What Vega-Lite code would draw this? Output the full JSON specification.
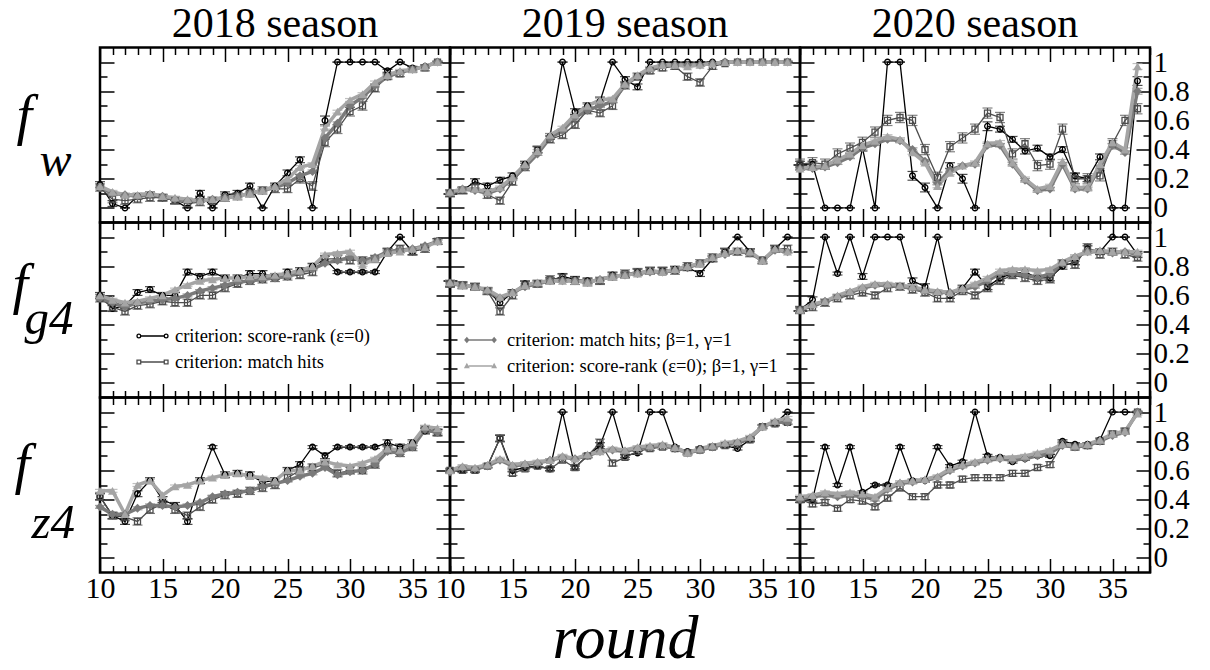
{
"$schema":"https://vega.github.io/schema/vega-lite/v6.json",
"padding":{"left":10,"top":1.5,"right":5,"bottom":0},
"background":"white",
"datasets":{
"w18":[
{"s":"A","r":10,"v":0.16,"e":0.02},{"s":"A","r":11,"v":0.03,"e":0.02},{"s":"A","r":12,"v":0,"e":0},{"s":"A","r":13,"v":0.08,"e":0.02},{"s":"A","r":14,"v":0.09,"e":0.02},{"s":"A","r":15,"v":0.07,"e":0.02},{"s":"A","r":16,"v":0.05,"e":0.02},{"s":"A","r":17,"v":0,"e":0},{"s":"A","r":18,"v":0.1,"e":0.02},{"s":"A","r":19,"v":0,"e":0},{"s":"A","r":20,"v":0.09,"e":0.02},{"s":"A","r":21,"v":0.1,"e":0.02},{"s":"A","r":22,"v":0.15,"e":0.02},{"s":"A","r":23,"v":0,"e":0},{"s":"A","r":24,"v":0.15,"e":0.02},{"s":"A","r":25,"v":0.24,"e":0.02},{"s":"A","r":26,"v":0.33,"e":0.02},{"s":"A","r":27,"v":0,"e":0},{"s":"A","r":28,"v":0.6,"e":0.03},{"s":"A","r":29,"v":1,"e":0},{"s":"A","r":30,"v":1,"e":0},{"s":"A","r":31,"v":1,"e":0},{"s":"A","r":32,"v":1,"e":0},{"s":"A","r":33,"v":0.94,"e":0.01},{"s":"A","r":34,"v":1,"e":0},{"s":"A","r":35,"v":0.96,"e":0.01},{"s":"A","r":36,"v":0.97,"e":0.01},{"s":"A","r":37,"v":1,"e":0},
{"s":"B","r":10,"v":0.14,"e":0.025},{"s":"B","r":11,"v":0.06,"e":0.025},{"s":"B","r":12,"v":0.05,"e":0.025},{"s":"B","r":13,"v":0.06,"e":0.025},{"s":"B","r":14,"v":0.07,"e":0.025},{"s":"B","r":15,"v":0.07,"e":0.025},{"s":"B","r":16,"v":0.05,"e":0.025},{"s":"B","r":17,"v":0.03,"e":0.025},{"s":"B","r":18,"v":0.04,"e":0.025},{"s":"B","r":19,"v":0.05,"e":0.025},{"s":"B","r":20,"v":0.07,"e":0.025},{"s":"B","r":21,"v":0.08,"e":0.025},{"s":"B","r":22,"v":0.1,"e":0.025},{"s":"B","r":23,"v":0.12,"e":0.025},{"s":"B","r":24,"v":0.13,"e":0.025},{"s":"B","r":25,"v":0.13,"e":0.025},{"s":"B","r":26,"v":0.2,"e":0.03},{"s":"B","r":27,"v":0.15,"e":0.03},{"s":"B","r":28,"v":0.45,"e":0.03},{"s":"B","r":29,"v":0.54,"e":0.03},{"s":"B","r":30,"v":0.66,"e":0.03},{"s":"B","r":31,"v":0.7,"e":0.03},{"s":"B","r":32,"v":0.82,"e":0.025},{"s":"B","r":33,"v":0.9,"e":0.02},{"s":"B","r":34,"v":0.92,"e":0.02},{"s":"B","r":35,"v":0.95,"e":0.02},{"s":"B","r":36,"v":0.96,"e":0.02},{"s":"B","r":37,"v":1,"e":0},
{"s":"C","r":10,"v":0.14,"e":0.01},{"s":"C","r":11,"v":0.1,"e":0.01},{"s":"C","r":12,"v":0.09,"e":0.01},{"s":"C","r":13,"v":0.08,"e":0.01},{"s":"C","r":14,"v":0.09,"e":0.01},{"s":"C","r":15,"v":0.08,"e":0.01},{"s":"C","r":16,"v":0.06,"e":0.01},{"s":"C","r":17,"v":0.05,"e":0.01},{"s":"C","r":18,"v":0.05,"e":0.01},{"s":"C","r":19,"v":0.06,"e":0.01},{"s":"C","r":20,"v":0.07,"e":0.01},{"s":"C","r":21,"v":0.08,"e":0.01},{"s":"C","r":22,"v":0.1,"e":0.01},{"s":"C","r":23,"v":0.12,"e":0.01},{"s":"C","r":24,"v":0.14,"e":0.01},{"s":"C","r":25,"v":0.17,"e":0.01},{"s":"C","r":26,"v":0.22,"e":0.01},{"s":"C","r":27,"v":0.25,"e":0.01},{"s":"C","r":28,"v":0.48,"e":0.01},{"s":"C","r":29,"v":0.58,"e":0.01},{"s":"C","r":30,"v":0.7,"e":0.01},{"s":"C","r":31,"v":0.76,"e":0.01},{"s":"C","r":32,"v":0.84,"e":0.01},{"s":"C","r":33,"v":0.9,"e":0.01},{"s":"C","r":34,"v":0.93,"e":0.01},{"s":"C","r":35,"v":0.95,"e":0.01},{"s":"C","r":36,"v":0.97,"e":0.01},{"s":"C","r":37,"v":1,"e":0.01},
{"s":"D","r":10,"v":0.15,"e":0.01},{"s":"D","r":11,"v":0.11,"e":0.01},{"s":"D","r":12,"v":0.09,"e":0.01},{"s":"D","r":13,"v":0.09,"e":0.01},{"s":"D","r":14,"v":0.1,"e":0.01},{"s":"D","r":15,"v":0.08,"e":0.01},{"s":"D","r":16,"v":0.07,"e":0.01},{"s":"D","r":17,"v":0.06,"e":0.01},{"s":"D","r":18,"v":0.05,"e":0.01},{"s":"D","r":19,"v":0.06,"e":0.01},{"s":"D","r":20,"v":0.07,"e":0.01},{"s":"D","r":21,"v":0.08,"e":0.01},{"s":"D","r":22,"v":0.1,"e":0.01},{"s":"D","r":23,"v":0.12,"e":0.01},{"s":"D","r":24,"v":0.15,"e":0.01},{"s":"D","r":25,"v":0.2,"e":0.01},{"s":"D","r":26,"v":0.28,"e":0.01},{"s":"D","r":27,"v":0.3,"e":0.01},{"s":"D","r":28,"v":0.55,"e":0.01},{"s":"D","r":29,"v":0.66,"e":0.01},{"s":"D","r":30,"v":0.74,"e":0.01},{"s":"D","r":31,"v":0.78,"e":0.01},{"s":"D","r":32,"v":0.86,"e":0.01},{"s":"D","r":33,"v":0.91,"e":0.01},{"s":"D","r":34,"v":0.94,"e":0.01},{"s":"D","r":35,"v":0.95,"e":0.01},{"s":"D","r":36,"v":0.97,"e":0.01},{"s":"D","r":37,"v":1,"e":0.01}
],
"w19":[
{"s":"A","r":10,"v":0.1,"e":0.02},{"s":"A","r":11,"v":0.12,"e":0.02},{"s":"A","r":12,"v":0.18,"e":0.02},{"s":"A","r":13,"v":0.15,"e":0.02},{"s":"A","r":14,"v":0.19,"e":0.02},{"s":"A","r":15,"v":0.22,"e":0.02},{"s":"A","r":16,"v":0.3,"e":0.02},{"s":"A","r":17,"v":0.4,"e":0.02},{"s":"A","r":18,"v":0.49,"e":0.02},{"s":"A","r":19,"v":1,"e":0},{"s":"A","r":20,"v":0.66,"e":0.02},{"s":"A","r":21,"v":0.7,"e":0.02},{"s":"A","r":22,"v":0.73,"e":0.03},{"s":"A","r":23,"v":1,"e":0},{"s":"A","r":24,"v":0.88,"e":0.02},{"s":"A","r":25,"v":0.83,"e":0.02},{"s":"A","r":26,"v":1,"e":0},{"s":"A","r":27,"v":1,"e":0},{"s":"A","r":28,"v":1,"e":0},{"s":"A","r":29,"v":1,"e":0},{"s":"A","r":30,"v":1,"e":0},{"s":"A","r":31,"v":1,"e":0},{"s":"A","r":32,"v":1,"e":0},{"s":"A","r":33,"v":1,"e":0},{"s":"A","r":34,"v":1,"e":0},{"s":"A","r":35,"v":1,"e":0},{"s":"A","r":36,"v":1,"e":0},{"s":"A","r":37,"v":1,"e":0},
{"s":"B","r":10,"v":0.1,"e":0.025},{"s":"B","r":11,"v":0.12,"e":0.025},{"s":"B","r":12,"v":0.14,"e":0.025},{"s":"B","r":13,"v":0.09,"e":0.025},{"s":"B","r":14,"v":0.05,"e":0.025},{"s":"B","r":15,"v":0.18,"e":0.025},{"s":"B","r":16,"v":0.28,"e":0.025},{"s":"B","r":17,"v":0.4,"e":0.025},{"s":"B","r":18,"v":0.47,"e":0.025},{"s":"B","r":19,"v":0.5,"e":0.025},{"s":"B","r":20,"v":0.57,"e":0.025},{"s":"B","r":21,"v":0.67,"e":0.025},{"s":"B","r":22,"v":0.65,"e":0.025},{"s":"B","r":23,"v":0.7,"e":0.025},{"s":"B","r":24,"v":0.84,"e":0.025},{"s":"B","r":25,"v":0.9,"e":0.025},{"s":"B","r":26,"v":0.94,"e":0.02},{"s":"B","r":27,"v":0.96,"e":0.02},{"s":"B","r":28,"v":0.97,"e":0.02},{"s":"B","r":29,"v":0.9,"e":0.025},{"s":"B","r":30,"v":0.86,"e":0.025},{"s":"B","r":31,"v":0.97,"e":0.02},{"s":"B","r":32,"v":0.99,"e":0.01},{"s":"B","r":33,"v":1,"e":0},{"s":"B","r":34,"v":1,"e":0},{"s":"B","r":35,"v":1,"e":0},{"s":"B","r":36,"v":1,"e":0},{"s":"B","r":37,"v":1,"e":0},
{"s":"C","r":10,"v":0.1,"e":0.01},{"s":"C","r":11,"v":0.13,"e":0.01},{"s":"C","r":12,"v":0.12,"e":0.01},{"s":"C","r":13,"v":0.1,"e":0.01},{"s":"C","r":14,"v":0.13,"e":0.01},{"s":"C","r":15,"v":0.2,"e":0.01},{"s":"C","r":16,"v":0.28,"e":0.01},{"s":"C","r":17,"v":0.37,"e":0.01},{"s":"C","r":18,"v":0.48,"e":0.01},{"s":"C","r":19,"v":0.53,"e":0.01},{"s":"C","r":20,"v":0.62,"e":0.01},{"s":"C","r":21,"v":0.67,"e":0.01},{"s":"C","r":22,"v":0.7,"e":0.01},{"s":"C","r":23,"v":0.73,"e":0.01},{"s":"C","r":24,"v":0.84,"e":0.01},{"s":"C","r":25,"v":0.9,"e":0.01},{"s":"C","r":26,"v":0.95,"e":0.01},{"s":"C","r":27,"v":0.98,"e":0.01},{"s":"C","r":28,"v":0.98,"e":0.01},{"s":"C","r":29,"v":0.98,"e":0.01},{"s":"C","r":30,"v":0.98,"e":0.01},{"s":"C","r":31,"v":0.99,"e":0.01},{"s":"C","r":32,"v":1,"e":0.01},{"s":"C","r":33,"v":1,"e":0.01},{"s":"C","r":34,"v":1,"e":0.01},{"s":"C","r":35,"v":1,"e":0.01},{"s":"C","r":36,"v":1,"e":0.01},{"s":"C","r":37,"v":1,"e":0.01},
{"s":"D","r":10,"v":0.11,"e":0.01},{"s":"D","r":11,"v":0.13,"e":0.01},{"s":"D","r":12,"v":0.13,"e":0.01},{"s":"D","r":13,"v":0.11,"e":0.01},{"s":"D","r":14,"v":0.14,"e":0.01},{"s":"D","r":15,"v":0.21,"e":0.01},{"s":"D","r":16,"v":0.3,"e":0.01},{"s":"D","r":17,"v":0.39,"e":0.01},{"s":"D","r":18,"v":0.5,"e":0.01},{"s":"D","r":19,"v":0.55,"e":0.01},{"s":"D","r":20,"v":0.64,"e":0.01},{"s":"D","r":21,"v":0.7,"e":0.01},{"s":"D","r":22,"v":0.74,"e":0.01},{"s":"D","r":23,"v":0.75,"e":0.01},{"s":"D","r":24,"v":0.85,"e":0.01},{"s":"D","r":25,"v":0.91,"e":0.01},{"s":"D","r":26,"v":0.96,"e":0.01},{"s":"D","r":27,"v":0.98,"e":0.01},{"s":"D","r":28,"v":0.98,"e":0.01},{"s":"D","r":29,"v":0.97,"e":0.01},{"s":"D","r":30,"v":0.98,"e":0.01},{"s":"D","r":31,"v":0.99,"e":0.01},{"s":"D","r":32,"v":1,"e":0.01},{"s":"D","r":33,"v":1,"e":0.01},{"s":"D","r":34,"v":1,"e":0.01},{"s":"D","r":35,"v":1,"e":0.01},{"s":"D","r":36,"v":1,"e":0.01},{"s":"D","r":37,"v":1,"e":0.01}
],
"w20":[
{"s":"A","r":10,"v":0.3,"e":0.02},{"s":"A","r":11,"v":0.3,"e":0.02},{"s":"A","r":12,"v":0,"e":0},{"s":"A","r":13,"v":0,"e":0},{"s":"A","r":14,"v":0,"e":0},{"s":"A","r":15,"v":0.41,"e":0.02},{"s":"A","r":16,"v":0,"e":0},{"s":"A","r":17,"v":1,"e":0},{"s":"A","r":18,"v":1,"e":0},{"s":"A","r":19,"v":0.22,"e":0.03},{"s":"A","r":20,"v":0.14,"e":0.03},{"s":"A","r":21,"v":0,"e":0},{"s":"A","r":22,"v":0.29,"e":0.02},{"s":"A","r":23,"v":0.2,"e":0.03},{"s":"A","r":24,"v":0,"e":0},{"s":"A","r":25,"v":0.56,"e":0.03},{"s":"A","r":26,"v":0.54,"e":0.02},{"s":"A","r":27,"v":0.47,"e":0.02},{"s":"A","r":28,"v":0.39,"e":0.02},{"s":"A","r":29,"v":0.41,"e":0.02},{"s":"A","r":30,"v":0.35,"e":0.02},{"s":"A","r":31,"v":0.4,"e":0.02},{"s":"A","r":32,"v":0.22,"e":0.02},{"s":"A","r":33,"v":0.2,"e":0.02},{"s":"A","r":34,"v":0.35,"e":0.02},{"s":"A","r":35,"v":0,"e":0},{"s":"A","r":36,"v":0,"e":0},{"s":"A","r":37,"v":0.87,"e":0.03},
{"s":"B","r":10,"v":0.3,"e":0.035},{"s":"B","r":11,"v":0.31,"e":0.035},{"s":"B","r":12,"v":0.3,"e":0.035},{"s":"B","r":13,"v":0.37,"e":0.035},{"s":"B","r":14,"v":0.41,"e":0.035},{"s":"B","r":15,"v":0.45,"e":0.035},{"s":"B","r":16,"v":0.52,"e":0.035},{"s":"B","r":17,"v":0.6,"e":0.035},{"s":"B","r":18,"v":0.62,"e":0.035},{"s":"B","r":19,"v":0.6,"e":0.035},{"s":"B","r":20,"v":0.4,"e":0.035},{"s":"B","r":21,"v":0.21,"e":0.035},{"s":"B","r":22,"v":0.42,"e":0.035},{"s":"B","r":23,"v":0.48,"e":0.035},{"s":"B","r":24,"v":0.54,"e":0.035},{"s":"B","r":25,"v":0.65,"e":0.035},{"s":"B","r":26,"v":0.62,"e":0.035},{"s":"B","r":27,"v":0.37,"e":0.035},{"s":"B","r":28,"v":0.44,"e":0.035},{"s":"B","r":29,"v":0.29,"e":0.035},{"s":"B","r":30,"v":0.3,"e":0.035},{"s":"B","r":31,"v":0.54,"e":0.035},{"s":"B","r":32,"v":0.2,"e":0.035},{"s":"B","r":33,"v":0.2,"e":0.035},{"s":"B","r":34,"v":0.22,"e":0.035},{"s":"B","r":35,"v":0.44,"e":0.035},{"s":"B","r":36,"v":0.6,"e":0.035},{"s":"B","r":37,"v":0.68,"e":0.035},
{"s":"C","r":10,"v":0.27,"e":0.012},{"s":"C","r":11,"v":0.27,"e":0.012},{"s":"C","r":12,"v":0.28,"e":0.012},{"s":"C","r":13,"v":0.31,"e":0.012},{"s":"C","r":14,"v":0.35,"e":0.012},{"s":"C","r":15,"v":0.41,"e":0.012},{"s":"C","r":16,"v":0.44,"e":0.012},{"s":"C","r":17,"v":0.47,"e":0.012},{"s":"C","r":18,"v":0.46,"e":0.012},{"s":"C","r":19,"v":0.4,"e":0.012},{"s":"C","r":20,"v":0.32,"e":0.012},{"s":"C","r":21,"v":0.17,"e":0.012},{"s":"C","r":22,"v":0.26,"e":0.012},{"s":"C","r":23,"v":0.29,"e":0.012},{"s":"C","r":24,"v":0.3,"e":0.012},{"s":"C","r":25,"v":0.43,"e":0.012},{"s":"C","r":26,"v":0.43,"e":0.012},{"s":"C","r":27,"v":0.3,"e":0.012},{"s":"C","r":28,"v":0.19,"e":0.012},{"s":"C","r":29,"v":0.12,"e":0.012},{"s":"C","r":30,"v":0.13,"e":0.012},{"s":"C","r":31,"v":0.3,"e":0.012},{"s":"C","r":32,"v":0.13,"e":0.012},{"s":"C","r":33,"v":0.13,"e":0.012},{"s":"C","r":34,"v":0.28,"e":0.012},{"s":"C","r":35,"v":0.43,"e":0.012},{"s":"C","r":36,"v":0.38,"e":0.012},{"s":"C","r":37,"v":0.8,"e":0.02},
{"s":"D","r":10,"v":0.27,"e":0.012},{"s":"D","r":11,"v":0.28,"e":0.012},{"s":"D","r":12,"v":0.29,"e":0.012},{"s":"D","r":13,"v":0.33,"e":0.012},{"s":"D","r":14,"v":0.37,"e":0.012},{"s":"D","r":15,"v":0.43,"e":0.012},{"s":"D","r":16,"v":0.46,"e":0.012},{"s":"D","r":17,"v":0.49,"e":0.012},{"s":"D","r":18,"v":0.47,"e":0.012},{"s":"D","r":19,"v":0.38,"e":0.012},{"s":"D","r":20,"v":0.31,"e":0.012},{"s":"D","r":21,"v":0.15,"e":0.012},{"s":"D","r":22,"v":0.24,"e":0.012},{"s":"D","r":23,"v":0.29,"e":0.012},{"s":"D","r":24,"v":0.31,"e":0.012},{"s":"D","r":25,"v":0.44,"e":0.012},{"s":"D","r":26,"v":0.45,"e":0.012},{"s":"D","r":27,"v":0.31,"e":0.012},{"s":"D","r":28,"v":0.2,"e":0.012},{"s":"D","r":29,"v":0.13,"e":0.012},{"s":"D","r":30,"v":0.15,"e":0.012},{"s":"D","r":31,"v":0.32,"e":0.012},{"s":"D","r":32,"v":0.14,"e":0.012},{"s":"D","r":33,"v":0.14,"e":0.012},{"s":"D","r":34,"v":0.3,"e":0.012},{"s":"D","r":35,"v":0.45,"e":0.012},{"s":"D","r":36,"v":0.4,"e":0.012},{"s":"D","r":37,"v":0.97,"e":0.02}
],
"g18":[
{"s":"A","r":10,"v":0.6,"e":0.02},{"s":"A","r":11,"v":0.51,"e":0.02},{"s":"A","r":12,"v":0.53,"e":0.02},{"s":"A","r":13,"v":0.62,"e":0.02},{"s":"A","r":14,"v":0.64,"e":0.02},{"s":"A","r":15,"v":0.6,"e":0.02},{"s":"A","r":16,"v":0.6,"e":0.02},{"s":"A","r":17,"v":0.76,"e":0.02},{"s":"A","r":18,"v":0.73,"e":0.02},{"s":"A","r":19,"v":0.76,"e":0.02},{"s":"A","r":20,"v":0.72,"e":0.02},{"s":"A","r":21,"v":0.72,"e":0.02},{"s":"A","r":22,"v":0.75,"e":0.02},{"s":"A","r":23,"v":0.75,"e":0.02},{"s":"A","r":24,"v":0.73,"e":0.02},{"s":"A","r":25,"v":0.76,"e":0.02},{"s":"A","r":26,"v":0.77,"e":0.02},{"s":"A","r":27,"v":0.8,"e":0.02},{"s":"A","r":28,"v":0.85,"e":0.02},{"s":"A","r":29,"v":0.76,"e":0.01},{"s":"A","r":30,"v":0.76,"e":0.01},{"s":"A","r":31,"v":0.76,"e":0.01},{"s":"A","r":32,"v":0.76,"e":0.01},{"s":"A","r":33,"v":0.9,"e":0.02},{"s":"A","r":34,"v":1,"e":0},{"s":"A","r":35,"v":0.9,"e":0.02},{"s":"A","r":36,"v":0.93,"e":0.02},{"s":"A","r":37,"v":0.97,"e":0.02},
{"s":"B","r":10,"v":0.58,"e":0.025},{"s":"B","r":11,"v":0.52,"e":0.025},{"s":"B","r":12,"v":0.49,"e":0.025},{"s":"B","r":13,"v":0.53,"e":0.025},{"s":"B","r":14,"v":0.54,"e":0.025},{"s":"B","r":15,"v":0.56,"e":0.025},{"s":"B","r":16,"v":0.55,"e":0.025},{"s":"B","r":17,"v":0.55,"e":0.025},{"s":"B","r":18,"v":0.6,"e":0.025},{"s":"B","r":19,"v":0.6,"e":0.025},{"s":"B","r":20,"v":0.65,"e":0.025},{"s":"B","r":21,"v":0.68,"e":0.025},{"s":"B","r":22,"v":0.7,"e":0.025},{"s":"B","r":23,"v":0.71,"e":0.025},{"s":"B","r":24,"v":0.72,"e":0.025},{"s":"B","r":25,"v":0.73,"e":0.025},{"s":"B","r":26,"v":0.74,"e":0.025},{"s":"B","r":27,"v":0.76,"e":0.025},{"s":"B","r":28,"v":0.85,"e":0.025},{"s":"B","r":29,"v":0.85,"e":0.025},{"s":"B","r":30,"v":0.84,"e":0.025},{"s":"B","r":31,"v":0.84,"e":0.025},{"s":"B","r":32,"v":0.85,"e":0.025},{"s":"B","r":33,"v":0.9,"e":0.025},{"s":"B","r":34,"v":0.92,"e":0.025},{"s":"B","r":35,"v":0.9,"e":0.025},{"s":"B","r":36,"v":0.92,"e":0.025},{"s":"B","r":37,"v":0.97,"e":0.02},
{"s":"C","r":10,"v":0.58,"e":0.01},{"s":"C","r":11,"v":0.55,"e":0.01},{"s":"C","r":12,"v":0.52,"e":0.01},{"s":"C","r":13,"v":0.55,"e":0.01},{"s":"C","r":14,"v":0.56,"e":0.01},{"s":"C","r":15,"v":0.57,"e":0.01},{"s":"C","r":16,"v":0.58,"e":0.01},{"s":"C","r":17,"v":0.6,"e":0.01},{"s":"C","r":18,"v":0.63,"e":0.01},{"s":"C","r":19,"v":0.65,"e":0.01},{"s":"C","r":20,"v":0.67,"e":0.01},{"s":"C","r":21,"v":0.69,"e":0.01},{"s":"C","r":22,"v":0.7,"e":0.01},{"s":"C","r":23,"v":0.71,"e":0.01},{"s":"C","r":24,"v":0.72,"e":0.01},{"s":"C","r":25,"v":0.73,"e":0.01},{"s":"C","r":26,"v":0.76,"e":0.01},{"s":"C","r":27,"v":0.78,"e":0.01},{"s":"C","r":28,"v":0.82,"e":0.01},{"s":"C","r":29,"v":0.84,"e":0.01},{"s":"C","r":30,"v":0.86,"e":0.01},{"s":"C","r":31,"v":0.84,"e":0.01},{"s":"C","r":32,"v":0.86,"e":0.01},{"s":"C","r":33,"v":0.9,"e":0.01},{"s":"C","r":34,"v":0.91,"e":0.01},{"s":"C","r":35,"v":0.92,"e":0.01},{"s":"C","r":36,"v":0.94,"e":0.01},{"s":"C","r":37,"v":0.97,"e":0.01},
{"s":"D","r":10,"v":0.6,"e":0.01},{"s":"D","r":11,"v":0.57,"e":0.01},{"s":"D","r":12,"v":0.55,"e":0.01},{"s":"D","r":13,"v":0.56,"e":0.01},{"s":"D","r":14,"v":0.58,"e":0.01},{"s":"D","r":15,"v":0.6,"e":0.01},{"s":"D","r":16,"v":0.64,"e":0.01},{"s":"D","r":17,"v":0.67,"e":0.01},{"s":"D","r":18,"v":0.7,"e":0.01},{"s":"D","r":19,"v":0.71,"e":0.01},{"s":"D","r":20,"v":0.72,"e":0.01},{"s":"D","r":21,"v":0.72,"e":0.01},{"s":"D","r":22,"v":0.73,"e":0.01},{"s":"D","r":23,"v":0.73,"e":0.01},{"s":"D","r":24,"v":0.74,"e":0.01},{"s":"D","r":25,"v":0.75,"e":0.01},{"s":"D","r":26,"v":0.77,"e":0.01},{"s":"D","r":27,"v":0.8,"e":0.01},{"s":"D","r":28,"v":0.88,"e":0.01},{"s":"D","r":29,"v":0.89,"e":0.01},{"s":"D","r":30,"v":0.9,"e":0.01},{"s":"D","r":31,"v":0.81,"e":0.01},{"s":"D","r":32,"v":0.85,"e":0.01},{"s":"D","r":33,"v":0.89,"e":0.01},{"s":"D","r":34,"v":0.9,"e":0.01},{"s":"D","r":35,"v":0.92,"e":0.01},{"s":"D","r":36,"v":0.93,"e":0.01},{"s":"D","r":37,"v":0.97,"e":0.01}
],
"g19":[
{"s":"A","r":10,"v":0.68,"e":0.02},{"s":"A","r":11,"v":0.67,"e":0.02},{"s":"A","r":12,"v":0.66,"e":0.02},{"s":"A","r":13,"v":0.63,"e":0.02},{"s":"A","r":14,"v":0.55,"e":0.02},{"s":"A","r":15,"v":0.62,"e":0.02},{"s":"A","r":16,"v":0.68,"e":0.02},{"s":"A","r":17,"v":0.68,"e":0.02},{"s":"A","r":18,"v":0.7,"e":0.02},{"s":"A","r":19,"v":0.73,"e":0.02},{"s":"A","r":20,"v":0.71,"e":0.02},{"s":"A","r":21,"v":0.7,"e":0.02},{"s":"A","r":22,"v":0.7,"e":0.02},{"s":"A","r":23,"v":0.74,"e":0.02},{"s":"A","r":24,"v":0.74,"e":0.02},{"s":"A","r":25,"v":0.76,"e":0.02},{"s":"A","r":26,"v":0.77,"e":0.02},{"s":"A","r":27,"v":0.77,"e":0.02},{"s":"A","r":28,"v":0.78,"e":0.02},{"s":"A","r":29,"v":0.79,"e":0.02},{"s":"A","r":30,"v":0.75,"e":0.02},{"s":"A","r":31,"v":0.85,"e":0.02},{"s":"A","r":32,"v":0.9,"e":0.02},{"s":"A","r":33,"v":1,"e":0},{"s":"A","r":34,"v":0.9,"e":0.02},{"s":"A","r":35,"v":0.84,"e":0.02},{"s":"A","r":36,"v":0.92,"e":0.02},{"s":"A","r":37,"v":1,"e":0},
{"s":"B","r":10,"v":0.68,"e":0.025},{"s":"B","r":11,"v":0.67,"e":0.025},{"s":"B","r":12,"v":0.66,"e":0.025},{"s":"B","r":13,"v":0.63,"e":0.025},{"s":"B","r":14,"v":0.49,"e":0.025},{"s":"B","r":15,"v":0.6,"e":0.025},{"s":"B","r":16,"v":0.67,"e":0.025},{"s":"B","r":17,"v":0.68,"e":0.025},{"s":"B","r":18,"v":0.71,"e":0.025},{"s":"B","r":19,"v":0.72,"e":0.025},{"s":"B","r":20,"v":0.7,"e":0.025},{"s":"B","r":21,"v":0.69,"e":0.025},{"s":"B","r":22,"v":0.7,"e":0.025},{"s":"B","r":23,"v":0.73,"e":0.025},{"s":"B","r":24,"v":0.75,"e":0.025},{"s":"B","r":25,"v":0.76,"e":0.025},{"s":"B","r":26,"v":0.77,"e":0.025},{"s":"B","r":27,"v":0.77,"e":0.025},{"s":"B","r":28,"v":0.77,"e":0.025},{"s":"B","r":29,"v":0.8,"e":0.025},{"s":"B","r":30,"v":0.82,"e":0.025},{"s":"B","r":31,"v":0.86,"e":0.025},{"s":"B","r":32,"v":0.9,"e":0.025},{"s":"B","r":33,"v":0.9,"e":0.025},{"s":"B","r":34,"v":0.89,"e":0.025},{"s":"B","r":35,"v":0.84,"e":0.025},{"s":"B","r":36,"v":0.92,"e":0.025},{"s":"B","r":37,"v":0.92,"e":0.025},
{"s":"C","r":10,"v":0.68,"e":0.01},{"s":"C","r":11,"v":0.67,"e":0.01},{"s":"C","r":12,"v":0.66,"e":0.01},{"s":"C","r":13,"v":0.63,"e":0.01},{"s":"C","r":14,"v":0.58,"e":0.01},{"s":"C","r":15,"v":0.62,"e":0.01},{"s":"C","r":16,"v":0.66,"e":0.01},{"s":"C","r":17,"v":0.68,"e":0.01},{"s":"C","r":18,"v":0.7,"e":0.01},{"s":"C","r":19,"v":0.7,"e":0.01},{"s":"C","r":20,"v":0.7,"e":0.01},{"s":"C","r":21,"v":0.69,"e":0.01},{"s":"C","r":22,"v":0.71,"e":0.01},{"s":"C","r":23,"v":0.73,"e":0.01},{"s":"C","r":24,"v":0.74,"e":0.01},{"s":"C","r":25,"v":0.75,"e":0.01},{"s":"C","r":26,"v":0.76,"e":0.01},{"s":"C","r":27,"v":0.76,"e":0.01},{"s":"C","r":28,"v":0.77,"e":0.01},{"s":"C","r":29,"v":0.79,"e":0.01},{"s":"C","r":30,"v":0.82,"e":0.01},{"s":"C","r":31,"v":0.86,"e":0.01},{"s":"C","r":32,"v":0.88,"e":0.01},{"s":"C","r":33,"v":0.9,"e":0.01},{"s":"C","r":34,"v":0.89,"e":0.01},{"s":"C","r":35,"v":0.84,"e":0.01},{"s":"C","r":36,"v":0.91,"e":0.01},{"s":"C","r":37,"v":0.9,"e":0.01},
{"s":"D","r":10,"v":0.69,"e":0.01},{"s":"D","r":11,"v":0.67,"e":0.01},{"s":"D","r":12,"v":0.66,"e":0.01},{"s":"D","r":13,"v":0.64,"e":0.01},{"s":"D","r":14,"v":0.59,"e":0.01},{"s":"D","r":15,"v":0.62,"e":0.01},{"s":"D","r":16,"v":0.67,"e":0.01},{"s":"D","r":17,"v":0.69,"e":0.01},{"s":"D","r":18,"v":0.7,"e":0.01},{"s":"D","r":19,"v":0.7,"e":0.01},{"s":"D","r":20,"v":0.7,"e":0.01},{"s":"D","r":21,"v":0.69,"e":0.01},{"s":"D","r":22,"v":0.71,"e":0.01},{"s":"D","r":23,"v":0.73,"e":0.01},{"s":"D","r":24,"v":0.74,"e":0.01},{"s":"D","r":25,"v":0.75,"e":0.01},{"s":"D","r":26,"v":0.77,"e":0.01},{"s":"D","r":27,"v":0.76,"e":0.01},{"s":"D","r":28,"v":0.78,"e":0.01},{"s":"D","r":29,"v":0.8,"e":0.01},{"s":"D","r":30,"v":0.82,"e":0.01},{"s":"D","r":31,"v":0.86,"e":0.01},{"s":"D","r":32,"v":0.89,"e":0.01},{"s":"D","r":33,"v":0.91,"e":0.01},{"s":"D","r":34,"v":0.9,"e":0.01},{"s":"D","r":35,"v":0.84,"e":0.01},{"s":"D","r":36,"v":0.92,"e":0.01},{"s":"D","r":37,"v":0.9,"e":0.01}
],
"g20":[
{"s":"A","r":10,"v":0.5,"e":0.02},{"s":"A","r":11,"v":0.57,"e":0.02},{"s":"A","r":12,"v":1,"e":0},{"s":"A","r":13,"v":0.75,"e":0.01},{"s":"A","r":14,"v":1,"e":0},{"s":"A","r":15,"v":0.73,"e":0.02},{"s":"A","r":16,"v":1,"e":0},{"s":"A","r":17,"v":1,"e":0},{"s":"A","r":18,"v":1,"e":0},{"s":"A","r":19,"v":0.7,"e":0.02},{"s":"A","r":20,"v":0.66,"e":0.02},{"s":"A","r":21,"v":1,"e":0},{"s":"A","r":22,"v":0.6,"e":0.02},{"s":"A","r":23,"v":0.65,"e":0.02},{"s":"A","r":24,"v":0.76,"e":0.02},{"s":"A","r":25,"v":0.66,"e":0.02},{"s":"A","r":26,"v":0.72,"e":0.02},{"s":"A","r":27,"v":0.75,"e":0.02},{"s":"A","r":28,"v":0.76,"e":0.02},{"s":"A","r":29,"v":0.72,"e":0.02},{"s":"A","r":30,"v":0.72,"e":0.02},{"s":"A","r":31,"v":0.8,"e":0.02},{"s":"A","r":32,"v":0.83,"e":0.02},{"s":"A","r":33,"v":0.92,"e":0.02},{"s":"A","r":34,"v":0.9,"e":0.02},{"s":"A","r":35,"v":1,"e":0},{"s":"A","r":36,"v":1,"e":0},{"s":"A","r":37,"v":0.88,"e":0.02},
{"s":"B","r":10,"v":0.5,"e":0.025},{"s":"B","r":11,"v":0.52,"e":0.025},{"s":"B","r":12,"v":0.55,"e":0.025},{"s":"B","r":13,"v":0.58,"e":0.025},{"s":"B","r":14,"v":0.6,"e":0.025},{"s":"B","r":15,"v":0.62,"e":0.025},{"s":"B","r":16,"v":0.6,"e":0.025},{"s":"B","r":17,"v":0.65,"e":0.025},{"s":"B","r":18,"v":0.66,"e":0.025},{"s":"B","r":19,"v":0.64,"e":0.025},{"s":"B","r":20,"v":0.62,"e":0.025},{"s":"B","r":21,"v":0.58,"e":0.025},{"s":"B","r":22,"v":0.58,"e":0.025},{"s":"B","r":23,"v":0.63,"e":0.025},{"s":"B","r":24,"v":0.6,"e":0.025},{"s":"B","r":25,"v":0.65,"e":0.025},{"s":"B","r":26,"v":0.7,"e":0.025},{"s":"B","r":27,"v":0.74,"e":0.025},{"s":"B","r":28,"v":0.72,"e":0.025},{"s":"B","r":29,"v":0.7,"e":0.025},{"s":"B","r":30,"v":0.71,"e":0.025},{"s":"B","r":31,"v":0.82,"e":0.025},{"s":"B","r":32,"v":0.81,"e":0.025},{"s":"B","r":33,"v":0.93,"e":0.025},{"s":"B","r":34,"v":0.88,"e":0.025},{"s":"B","r":35,"v":0.9,"e":0.025},{"s":"B","r":36,"v":0.88,"e":0.025},{"s":"B","r":37,"v":0.86,"e":0.025},
{"s":"C","r":10,"v":0.5,"e":0.01},{"s":"C","r":11,"v":0.53,"e":0.01},{"s":"C","r":12,"v":0.56,"e":0.01},{"s":"C","r":13,"v":0.59,"e":0.01},{"s":"C","r":14,"v":0.62,"e":0.01},{"s":"C","r":15,"v":0.65,"e":0.01},{"s":"C","r":16,"v":0.67,"e":0.01},{"s":"C","r":17,"v":0.67,"e":0.01},{"s":"C","r":18,"v":0.66,"e":0.01},{"s":"C","r":19,"v":0.65,"e":0.01},{"s":"C","r":20,"v":0.63,"e":0.01},{"s":"C","r":21,"v":0.62,"e":0.01},{"s":"C","r":22,"v":0.62,"e":0.01},{"s":"C","r":23,"v":0.64,"e":0.01},{"s":"C","r":24,"v":0.66,"e":0.01},{"s":"C","r":25,"v":0.7,"e":0.01},{"s":"C","r":26,"v":0.75,"e":0.01},{"s":"C","r":27,"v":0.75,"e":0.01},{"s":"C","r":28,"v":0.74,"e":0.01},{"s":"C","r":29,"v":0.72,"e":0.01},{"s":"C","r":30,"v":0.75,"e":0.01},{"s":"C","r":31,"v":0.82,"e":0.01},{"s":"C","r":32,"v":0.86,"e":0.01},{"s":"C","r":33,"v":0.9,"e":0.01},{"s":"C","r":34,"v":0.9,"e":0.01},{"s":"C","r":35,"v":0.89,"e":0.01},{"s":"C","r":36,"v":0.9,"e":0.01},{"s":"C","r":37,"v":0.88,"e":0.01},
{"s":"D","r":10,"v":0.5,"e":0.01},{"s":"D","r":11,"v":0.54,"e":0.01},{"s":"D","r":12,"v":0.56,"e":0.01},{"s":"D","r":13,"v":0.6,"e":0.01},{"s":"D","r":14,"v":0.63,"e":0.01},{"s":"D","r":15,"v":0.66,"e":0.01},{"s":"D","r":16,"v":0.68,"e":0.01},{"s":"D","r":17,"v":0.68,"e":0.01},{"s":"D","r":18,"v":0.67,"e":0.01},{"s":"D","r":19,"v":0.66,"e":0.01},{"s":"D","r":20,"v":0.64,"e":0.01},{"s":"D","r":21,"v":0.63,"e":0.01},{"s":"D","r":22,"v":0.62,"e":0.01},{"s":"D","r":23,"v":0.65,"e":0.01},{"s":"D","r":24,"v":0.68,"e":0.01},{"s":"D","r":25,"v":0.72,"e":0.01},{"s":"D","r":26,"v":0.77,"e":0.01},{"s":"D","r":27,"v":0.78,"e":0.01},{"s":"D","r":28,"v":0.78,"e":0.01},{"s":"D","r":29,"v":0.77,"e":0.01},{"s":"D","r":30,"v":0.78,"e":0.01},{"s":"D","r":31,"v":0.83,"e":0.01},{"s":"D","r":32,"v":0.87,"e":0.01},{"s":"D","r":33,"v":0.9,"e":0.01},{"s":"D","r":34,"v":0.91,"e":0.01},{"s":"D","r":35,"v":0.9,"e":0.01},{"s":"D","r":36,"v":0.9,"e":0.01},{"s":"D","r":37,"v":0.9,"e":0.01}
],
"z18":[
{"s":"A","r":10,"v":0.42,"e":0.02},{"s":"A","r":11,"v":0.29,"e":0.02},{"s":"A","r":12,"v":0.25,"e":0.02},{"s":"A","r":13,"v":0.44,"e":0.02},{"s":"A","r":14,"v":0.53,"e":0.02},{"s":"A","r":15,"v":0.4,"e":0.02},{"s":"A","r":16,"v":0.36,"e":0.02},{"s":"A","r":17,"v":0.25,"e":0.02},{"s":"A","r":18,"v":0.53,"e":0.02},{"s":"A","r":19,"v":0.76,"e":0.01},{"s":"A","r":20,"v":0.57,"e":0.02},{"s":"A","r":21,"v":0.58,"e":0.02},{"s":"A","r":22,"v":0.57,"e":0.02},{"s":"A","r":23,"v":0.52,"e":0.02},{"s":"A","r":24,"v":0.53,"e":0.02},{"s":"A","r":25,"v":0.6,"e":0.02},{"s":"A","r":26,"v":0.64,"e":0.02},{"s":"A","r":27,"v":0.76,"e":0.01},{"s":"A","r":28,"v":0.7,"e":0.02},{"s":"A","r":29,"v":0.76,"e":0.01},{"s":"A","r":30,"v":0.76,"e":0.01},{"s":"A","r":31,"v":0.76,"e":0.01},{"s":"A","r":32,"v":0.76,"e":0.01},{"s":"A","r":33,"v":0.79,"e":0.02},{"s":"A","r":34,"v":0.76,"e":0.02},{"s":"A","r":35,"v":0.79,"e":0.02},{"s":"A","r":36,"v":0.87,"e":0.02},{"s":"A","r":37,"v":0.86,"e":0.02},
{"s":"B","r":10,"v":0.42,"e":0.025},{"s":"B","r":11,"v":0.29,"e":0.025},{"s":"B","r":12,"v":0.28,"e":0.025},{"s":"B","r":13,"v":0.25,"e":0.025},{"s":"B","r":14,"v":0.33,"e":0.025},{"s":"B","r":15,"v":0.37,"e":0.025},{"s":"B","r":16,"v":0.33,"e":0.025},{"s":"B","r":17,"v":0.29,"e":0.025},{"s":"B","r":18,"v":0.35,"e":0.025},{"s":"B","r":19,"v":0.4,"e":0.025},{"s":"B","r":20,"v":0.43,"e":0.025},{"s":"B","r":21,"v":0.44,"e":0.025},{"s":"B","r":22,"v":0.46,"e":0.025},{"s":"B","r":23,"v":0.48,"e":0.025},{"s":"B","r":24,"v":0.5,"e":0.025},{"s":"B","r":25,"v":0.55,"e":0.025},{"s":"B","r":26,"v":0.6,"e":0.025},{"s":"B","r":27,"v":0.62,"e":0.025},{"s":"B","r":28,"v":0.64,"e":0.025},{"s":"B","r":29,"v":0.58,"e":0.025},{"s":"B","r":30,"v":0.6,"e":0.025},{"s":"B","r":31,"v":0.6,"e":0.025},{"s":"B","r":32,"v":0.64,"e":0.025},{"s":"B","r":33,"v":0.74,"e":0.025},{"s":"B","r":34,"v":0.72,"e":0.025},{"s":"B","r":35,"v":0.76,"e":0.025},{"s":"B","r":36,"v":0.88,"e":0.025},{"s":"B","r":37,"v":0.86,"e":0.025},
{"s":"C","r":10,"v":0.35,"e":0.01},{"s":"C","r":11,"v":0.3,"e":0.01},{"s":"C","r":12,"v":0.3,"e":0.01},{"s":"C","r":13,"v":0.34,"e":0.01},{"s":"C","r":14,"v":0.36,"e":0.01},{"s":"C","r":15,"v":0.36,"e":0.01},{"s":"C","r":16,"v":0.35,"e":0.01},{"s":"C","r":17,"v":0.36,"e":0.01},{"s":"C","r":18,"v":0.38,"e":0.01},{"s":"C","r":19,"v":0.42,"e":0.01},{"s":"C","r":20,"v":0.44,"e":0.01},{"s":"C","r":21,"v":0.45,"e":0.01},{"s":"C","r":22,"v":0.46,"e":0.01},{"s":"C","r":23,"v":0.49,"e":0.01},{"s":"C","r":24,"v":0.51,"e":0.01},{"s":"C","r":25,"v":0.53,"e":0.01},{"s":"C","r":26,"v":0.56,"e":0.01},{"s":"C","r":27,"v":0.58,"e":0.01},{"s":"C","r":28,"v":0.62,"e":0.01},{"s":"C","r":29,"v":0.57,"e":0.01},{"s":"C","r":30,"v":0.59,"e":0.01},{"s":"C","r":31,"v":0.6,"e":0.01},{"s":"C","r":32,"v":0.64,"e":0.01},{"s":"C","r":33,"v":0.73,"e":0.01},{"s":"C","r":34,"v":0.72,"e":0.01},{"s":"C","r":35,"v":0.76,"e":0.01},{"s":"C","r":36,"v":0.88,"e":0.01},{"s":"C","r":37,"v":0.86,"e":0.01},
{"s":"D","r":10,"v":0.46,"e":0.01},{"s":"D","r":11,"v":0.46,"e":0.01},{"s":"D","r":12,"v":0.3,"e":0.01},{"s":"D","r":13,"v":0.5,"e":0.01},{"s":"D","r":14,"v":0.53,"e":0.01},{"s":"D","r":15,"v":0.43,"e":0.01},{"s":"D","r":16,"v":0.49,"e":0.01},{"s":"D","r":17,"v":0.5,"e":0.01},{"s":"D","r":18,"v":0.53,"e":0.01},{"s":"D","r":19,"v":0.55,"e":0.01},{"s":"D","r":20,"v":0.57,"e":0.01},{"s":"D","r":21,"v":0.58,"e":0.01},{"s":"D","r":22,"v":0.56,"e":0.01},{"s":"D","r":23,"v":0.55,"e":0.01},{"s":"D","r":24,"v":0.53,"e":0.01},{"s":"D","r":25,"v":0.6,"e":0.01},{"s":"D","r":26,"v":0.6,"e":0.01},{"s":"D","r":27,"v":0.63,"e":0.01},{"s":"D","r":28,"v":0.66,"e":0.01},{"s":"D","r":29,"v":0.64,"e":0.01},{"s":"D","r":30,"v":0.63,"e":0.01},{"s":"D","r":31,"v":0.65,"e":0.01},{"s":"D","r":32,"v":0.68,"e":0.01},{"s":"D","r":33,"v":0.75,"e":0.01},{"s":"D","r":34,"v":0.74,"e":0.01},{"s":"D","r":35,"v":0.79,"e":0.01},{"s":"D","r":36,"v":0.9,"e":0.01},{"s":"D","r":37,"v":0.89,"e":0.01}
],
"z19":[
{"s":"A","r":10,"v":0.6,"e":0.01},{"s":"A","r":11,"v":0.6,"e":0.01},{"s":"A","r":12,"v":0.6,"e":0.01},{"s":"A","r":13,"v":0.63,"e":0.01},{"s":"A","r":14,"v":0.82,"e":0.02},{"s":"A","r":15,"v":0.6,"e":0.01},{"s":"A","r":16,"v":0.62,"e":0.01},{"s":"A","r":17,"v":0.63,"e":0.01},{"s":"A","r":18,"v":0.61,"e":0.01},{"s":"A","r":19,"v":1,"e":0},{"s":"A","r":20,"v":0.62,"e":0.01},{"s":"A","r":21,"v":0.7,"e":0.01},{"s":"A","r":22,"v":0.77,"e":0.02},{"s":"A","r":23,"v":1,"e":0},{"s":"A","r":24,"v":0.7,"e":0.01},{"s":"A","r":25,"v":0.72,"e":0.01},{"s":"A","r":26,"v":1,"e":0},{"s":"A","r":27,"v":1,"e":0},{"s":"A","r":28,"v":0.76,"e":0.01},{"s":"A","r":29,"v":0.73,"e":0.01},{"s":"A","r":30,"v":0.75,"e":0.01},{"s":"A","r":31,"v":0.76,"e":0.01},{"s":"A","r":32,"v":0.77,"e":0.01},{"s":"A","r":33,"v":0.75,"e":0.01},{"s":"A","r":34,"v":0.81,"e":0.01},{"s":"A","r":35,"v":0.9,"e":0.01},{"s":"A","r":36,"v":0.92,"e":0.01},{"s":"A","r":37,"v":1,"e":0},
{"s":"B","r":10,"v":0.6,"e":0.015},{"s":"B","r":11,"v":0.6,"e":0.015},{"s":"B","r":12,"v":0.6,"e":0.015},{"s":"B","r":13,"v":0.63,"e":0.015},{"s":"B","r":14,"v":0.82,"e":0.025},{"s":"B","r":15,"v":0.58,"e":0.015},{"s":"B","r":16,"v":0.61,"e":0.015},{"s":"B","r":17,"v":0.63,"e":0.015},{"s":"B","r":18,"v":0.61,"e":0.015},{"s":"B","r":19,"v":0.67,"e":0.015},{"s":"B","r":20,"v":0.62,"e":0.02},{"s":"B","r":21,"v":0.7,"e":0.015},{"s":"B","r":22,"v":0.79,"e":0.025},{"s":"B","r":23,"v":0.65,"e":0.02},{"s":"B","r":24,"v":0.69,"e":0.015},{"s":"B","r":25,"v":0.73,"e":0.015},{"s":"B","r":26,"v":0.75,"e":0.015},{"s":"B","r":27,"v":0.76,"e":0.015},{"s":"B","r":28,"v":0.75,"e":0.015},{"s":"B","r":29,"v":0.72,"e":0.015},{"s":"B","r":30,"v":0.74,"e":0.015},{"s":"B","r":31,"v":0.76,"e":0.015},{"s":"B","r":32,"v":0.77,"e":0.015},{"s":"B","r":33,"v":0.78,"e":0.015},{"s":"B","r":34,"v":0.81,"e":0.015},{"s":"B","r":35,"v":0.9,"e":0.015},{"s":"B","r":36,"v":0.92,"e":0.015},{"s":"B","r":37,"v":0.93,"e":0.015},
{"s":"C","r":10,"v":0.59,"e":0.01},{"s":"C","r":11,"v":0.62,"e":0.01},{"s":"C","r":12,"v":0.61,"e":0.01},{"s":"C","r":13,"v":0.63,"e":0.01},{"s":"C","r":14,"v":0.67,"e":0.01},{"s":"C","r":15,"v":0.63,"e":0.01},{"s":"C","r":16,"v":0.64,"e":0.01},{"s":"C","r":17,"v":0.65,"e":0.01},{"s":"C","r":18,"v":0.67,"e":0.01},{"s":"C","r":19,"v":0.69,"e":0.01},{"s":"C","r":20,"v":0.68,"e":0.01},{"s":"C","r":21,"v":0.7,"e":0.01},{"s":"C","r":22,"v":0.73,"e":0.01},{"s":"C","r":23,"v":0.74,"e":0.01},{"s":"C","r":24,"v":0.73,"e":0.01},{"s":"C","r":25,"v":0.75,"e":0.01},{"s":"C","r":26,"v":0.76,"e":0.01},{"s":"C","r":27,"v":0.77,"e":0.01},{"s":"C","r":28,"v":0.75,"e":0.01},{"s":"C","r":29,"v":0.72,"e":0.01},{"s":"C","r":30,"v":0.74,"e":0.01},{"s":"C","r":31,"v":0.76,"e":0.01},{"s":"C","r":32,"v":0.78,"e":0.01},{"s":"C","r":33,"v":0.79,"e":0.01},{"s":"C","r":34,"v":0.82,"e":0.01},{"s":"C","r":35,"v":0.9,"e":0.01},{"s":"C","r":36,"v":0.93,"e":0.01},{"s":"C","r":37,"v":0.93,"e":0.01},
{"s":"D","r":10,"v":0.6,"e":0.01},{"s":"D","r":11,"v":0.63,"e":0.01},{"s":"D","r":12,"v":0.62,"e":0.01},{"s":"D","r":13,"v":0.64,"e":0.01},{"s":"D","r":14,"v":0.68,"e":0.01},{"s":"D","r":15,"v":0.64,"e":0.01},{"s":"D","r":16,"v":0.65,"e":0.01},{"s":"D","r":17,"v":0.66,"e":0.01},{"s":"D","r":18,"v":0.67,"e":0.01},{"s":"D","r":19,"v":0.7,"e":0.01},{"s":"D","r":20,"v":0.68,"e":0.01},{"s":"D","r":21,"v":0.71,"e":0.01},{"s":"D","r":22,"v":0.73,"e":0.01},{"s":"D","r":23,"v":0.75,"e":0.01},{"s":"D","r":24,"v":0.74,"e":0.01},{"s":"D","r":25,"v":0.76,"e":0.01},{"s":"D","r":26,"v":0.77,"e":0.01},{"s":"D","r":27,"v":0.78,"e":0.01},{"s":"D","r":28,"v":0.76,"e":0.01},{"s":"D","r":29,"v":0.72,"e":0.01},{"s":"D","r":30,"v":0.75,"e":0.01},{"s":"D","r":31,"v":0.77,"e":0.01},{"s":"D","r":32,"v":0.79,"e":0.01},{"s":"D","r":33,"v":0.8,"e":0.01},{"s":"D","r":34,"v":0.83,"e":0.01},{"s":"D","r":35,"v":0.9,"e":0.01},{"s":"D","r":36,"v":0.94,"e":0.01},{"s":"D","r":37,"v":0.96,"e":0.01}
],
"z20":[
{"s":"A","r":10,"v":0.4,"e":0.02},{"s":"A","r":11,"v":0.4,"e":0.02},{"s":"A","r":12,"v":0.76,"e":0.01},{"s":"A","r":13,"v":0.5,"e":0.01},{"s":"A","r":14,"v":0.76,"e":0.01},{"s":"A","r":15,"v":0.45,"e":0.01},{"s":"A","r":16,"v":0.5,"e":0.01},{"s":"A","r":17,"v":0.5,"e":0.01},{"s":"A","r":18,"v":0.76,"e":0.01},{"s":"A","r":19,"v":0.53,"e":0.01},{"s":"A","r":20,"v":0.53,"e":0.01},{"s":"A","r":21,"v":0.76,"e":0.01},{"s":"A","r":22,"v":0.63,"e":0.01},{"s":"A","r":23,"v":0.66,"e":0.01},{"s":"A","r":24,"v":1,"e":0},{"s":"A","r":25,"v":0.7,"e":0.01},{"s":"A","r":26,"v":0.69,"e":0.01},{"s":"A","r":27,"v":0.66,"e":0.01},{"s":"A","r":28,"v":0.68,"e":0.01},{"s":"A","r":29,"v":0.7,"e":0.01},{"s":"A","r":30,"v":0.7,"e":0.01},{"s":"A","r":31,"v":0.8,"e":0.01},{"s":"A","r":32,"v":0.78,"e":0.01},{"s":"A","r":33,"v":0.78,"e":0.01},{"s":"A","r":34,"v":0.81,"e":0.01},{"s":"A","r":35,"v":1,"e":0},{"s":"A","r":36,"v":1,"e":0},{"s":"A","r":37,"v":1,"e":0},
{"s":"B","r":10,"v":0.4,"e":0.02},{"s":"B","r":11,"v":0.37,"e":0.02},{"s":"B","r":12,"v":0.38,"e":0.02},{"s":"B","r":13,"v":0.34,"e":0.02},{"s":"B","r":14,"v":0.4,"e":0.02},{"s":"B","r":15,"v":0.39,"e":0.02},{"s":"B","r":16,"v":0.35,"e":0.02},{"s":"B","r":17,"v":0.41,"e":0.02},{"s":"B","r":18,"v":0.48,"e":0.02},{"s":"B","r":19,"v":0.42,"e":0.02},{"s":"B","r":20,"v":0.42,"e":0.02},{"s":"B","r":21,"v":0.5,"e":0.02},{"s":"B","r":22,"v":0.5,"e":0.02},{"s":"B","r":23,"v":0.54,"e":0.02},{"s":"B","r":24,"v":0.55,"e":0.02},{"s":"B","r":25,"v":0.55,"e":0.02},{"s":"B","r":26,"v":0.55,"e":0.02},{"s":"B","r":27,"v":0.58,"e":0.02},{"s":"B","r":28,"v":0.58,"e":0.02},{"s":"B","r":29,"v":0.62,"e":0.02},{"s":"B","r":30,"v":0.64,"e":0.02},{"s":"B","r":31,"v":0.78,"e":0.02},{"s":"B","r":32,"v":0.76,"e":0.02},{"s":"B","r":33,"v":0.77,"e":0.02},{"s":"B","r":34,"v":0.8,"e":0.02},{"s":"B","r":35,"v":0.85,"e":0.02},{"s":"B","r":36,"v":0.87,"e":0.02},{"s":"B","r":37,"v":1,"e":0},
{"s":"C","r":10,"v":0.4,"e":0.01},{"s":"C","r":11,"v":0.42,"e":0.01},{"s":"C","r":12,"v":0.43,"e":0.01},{"s":"C","r":13,"v":0.42,"e":0.01},{"s":"C","r":14,"v":0.43,"e":0.01},{"s":"C","r":15,"v":0.42,"e":0.01},{"s":"C","r":16,"v":0.4,"e":0.01},{"s":"C","r":17,"v":0.47,"e":0.01},{"s":"C","r":18,"v":0.51,"e":0.01},{"s":"C","r":19,"v":0.52,"e":0.01},{"s":"C","r":20,"v":0.53,"e":0.01},{"s":"C","r":21,"v":0.55,"e":0.01},{"s":"C","r":22,"v":0.6,"e":0.01},{"s":"C","r":23,"v":0.63,"e":0.01},{"s":"C","r":24,"v":0.65,"e":0.01},{"s":"C","r":25,"v":0.67,"e":0.01},{"s":"C","r":26,"v":0.68,"e":0.01},{"s":"C","r":27,"v":0.67,"e":0.01},{"s":"C","r":28,"v":0.68,"e":0.01},{"s":"C","r":29,"v":0.7,"e":0.01},{"s":"C","r":30,"v":0.72,"e":0.01},{"s":"C","r":31,"v":0.77,"e":0.01},{"s":"C","r":32,"v":0.76,"e":0.01},{"s":"C","r":33,"v":0.77,"e":0.01},{"s":"C","r":34,"v":0.8,"e":0.01},{"s":"C","r":35,"v":0.84,"e":0.01},{"s":"C","r":36,"v":0.86,"e":0.01},{"s":"C","r":37,"v":1,"e":0.01},
{"s":"D","r":10,"v":0.42,"e":0.01},{"s":"D","r":11,"v":0.43,"e":0.01},{"s":"D","r":12,"v":0.45,"e":0.01},{"s":"D","r":13,"v":0.44,"e":0.01},{"s":"D","r":14,"v":0.45,"e":0.01},{"s":"D","r":15,"v":0.44,"e":0.01},{"s":"D","r":16,"v":0.42,"e":0.01},{"s":"D","r":17,"v":0.48,"e":0.01},{"s":"D","r":18,"v":0.52,"e":0.01},{"s":"D","r":19,"v":0.53,"e":0.01},{"s":"D","r":20,"v":0.54,"e":0.01},{"s":"D","r":21,"v":0.56,"e":0.01},{"s":"D","r":22,"v":0.61,"e":0.01},{"s":"D","r":23,"v":0.64,"e":0.01},{"s":"D","r":24,"v":0.66,"e":0.01},{"s":"D","r":25,"v":0.68,"e":0.01},{"s":"D","r":26,"v":0.69,"e":0.01},{"s":"D","r":27,"v":0.69,"e":0.01},{"s":"D","r":28,"v":0.7,"e":0.01},{"s":"D","r":29,"v":0.72,"e":0.01},{"s":"D","r":30,"v":0.74,"e":0.01},{"s":"D","r":31,"v":0.78,"e":0.01},{"s":"D","r":32,"v":0.77,"e":0.01},{"s":"D","r":33,"v":0.78,"e":0.01},{"s":"D","r":34,"v":0.81,"e":0.01},{"s":"D","r":35,"v":0.85,"e":0.01},{"s":"D","r":36,"v":0.87,"e":0.01},{"s":"D","r":37,"v":0.99,"e":0.01}
]
},
"columns":3,
"spacing":0,
"bounds":"flush",
"resolve":{"legend":{"shape":"independent","stroke":"independent","fill":"independent"}},
"concat":[
{
"data":{"name":"w18"},"width":350,"height":175,
"title":{"text":"2018 season","fontSize":42,"fontWeight":"normal","font":"Liberation Serif","color":"black","frame":"group","anchor":"middle","baseline":"alphabetic","offset":-32.5},
"encoding":{"x":{"field":"r","type":"quantitative","scale":{"domain":[10,38],"nice":false,"zero":false},"axis":null},"y":{"field":"v","type":"quantitative","scale":{"domain":[-0.1,1.1],"nice":false,"zero":false},"axis":null},"color":{"field":"s","type":"nominal","scale":{"domain":["A","B","C","D"],"range":["#000000","#4d4d4d","#7a7a7a","#a5a5a5"]},"legend":null}},
"layer":[
{"mark":{"type":"errorbar","ticks":{"size":10},"thickness":1.2},"encoding":{"yError":{"field":"e"}}},
{"transform":[{"filter":"datum.s<'C'"}],"mark":{"type":"line","strokeWidth":1.3},"encoding":{
"x":{"field":"r","type":"quantitative","axis":{"orient":"bottom","values":[10,11,12,13,14,15,16,17,18,19,20,21,22,23,24,25,26,27,28,29,30,31,32,33,34,35,36,37,38],"tickSize":{"condition":{"test":"datum.value%5===0","value":-14},"value":-7},"labels":false,"title":null}},
"y":{"field":"v","type":"quantitative","axis":{"orient":"right","values":[0,0.1,0.2,0.3,0.4,0.5,0.6,0.7,0.8,0.9,1],"tickSize":{"condition":{"test":"round(datum.value*10)%2===0","value":-14},"value":-7},"labels":false,"title":null}}}},
{"transform":[{"filter":"datum.s>'B'"}],"mark":{"type":"line","strokeWidth":3.5}},
{"transform":[{"filter":"datum.s=='A'"}],"mark":{"type":"point","shape":"circle","size":32,"strokeWidth":1.3,"opacity":1},"encoding":{
"x":{"field":"r","type":"quantitative","axis":{"orient":"top","values":[10,11,12,13,14,15,16,17,18,19,20,21,22,23,24,25,26,27,28,29,30,31,32,33,34,35,36,37,38],"tickSize":{"condition":{"test":"datum.value%5===0","value":-14},"value":-7},"labels":false,"title":null}},
"y":{"field":"v","type":"quantitative","axis":{"orient":"left","values":[0,0.1,0.2,0.3,0.4,0.5,0.6,0.7,0.8,0.9,1],"tickSize":{"condition":{"test":"round(datum.value*10)%2===0","value":-14},"value":-7},"labels":false,"title":"f","titleFont":"Liberation Serif","titleFontStyle":"italic","titleAngle":0,"titleFontSize":56,"titleAlign":"left","titleBaseline":"alphabetic","titleX":-84,"titleY":86}}}},
{"transform":[{"filter":"datum.s=='B'"}],"mark":{"type":"point","shape":"square","size":36,"strokeWidth":1.3,"opacity":1},"encoding":{
"y":{"field":"v","type":"quantitative","axis":{"orient":"left","ticks":false,"labels":false,"title":"w","titleFont":"Liberation Serif","titleFontStyle":"italic","titleAngle":0,"titleFontSize":48,"titleAlign":"left","titleBaseline":"alphabetic","titleX":-61,"titleY":128}}}},
{"transform":[{"filter":"datum.s=='C'"}],"mark":{"type":"point","shape":"diamond","size":80,"filled":true,"opacity":1}},
{"transform":[{"filter":"datum.s=='D'"}],"mark":{"type":"point","shape":"triangle-up","size":80,"filled":true,"opacity":1}}
],
"resolve":{"axis":{"x":"independent","y":"independent"}}
},
{
"data":{"name":"w19"},"width":350,"height":175,
"title":{"text":"2019 season","fontSize":42,"fontWeight":"normal","font":"Liberation Serif","color":"black","frame":"group","anchor":"middle","baseline":"alphabetic","offset":-32.5},
"encoding":{"x":{"field":"r","type":"quantitative","scale":{"domain":[10,38],"nice":false,"zero":false},"axis":null},"y":{"field":"v","type":"quantitative","scale":{"domain":[-0.1,1.1],"nice":false,"zero":false},"axis":null},"color":{"field":"s","type":"nominal","scale":{"domain":["A","B","C","D"],"range":["#000000","#4d4d4d","#7a7a7a","#a5a5a5"]},"legend":null}},
"layer":[
{"mark":{"type":"errorbar","ticks":{"size":10},"thickness":1.2},"encoding":{"yError":{"field":"e"}}},
{"transform":[{"filter":"datum.s<'C'"}],"mark":{"type":"line","strokeWidth":1.3},"encoding":{
"x":{"field":"r","type":"quantitative","axis":{"orient":"bottom","values":[10,11,12,13,14,15,16,17,18,19,20,21,22,23,24,25,26,27,28,29,30,31,32,33,34,35,36,37,38],"tickSize":{"condition":{"test":"datum.value%5===0","value":-14},"value":-7},"labels":false,"title":null}},
"y":{"field":"v","type":"quantitative","axis":{"orient":"right","values":[0,0.1,0.2,0.3,0.4,0.5,0.6,0.7,0.8,0.9,1],"tickSize":{"condition":{"test":"round(datum.value*10)%2===0","value":-14},"value":-7},"labels":false,"title":null}}}},
{"transform":[{"filter":"datum.s>'B'"}],"mark":{"type":"line","strokeWidth":3.5}},
{"transform":[{"filter":"datum.s=='A'"}],"mark":{"type":"point","shape":"circle","size":32,"strokeWidth":1.3,"opacity":1},"encoding":{
"x":{"field":"r","type":"quantitative","axis":{"orient":"top","values":[10,11,12,13,14,15,16,17,18,19,20,21,22,23,24,25,26,27,28,29,30,31,32,33,34,35,36,37,38],"tickSize":{"condition":{"test":"datum.value%5===0","value":-14},"value":-7},"labels":false,"title":null}},
"y":{"field":"v","type":"quantitative","axis":{"orient":"left","values":[0,0.1,0.2,0.3,0.4,0.5,0.6,0.7,0.8,0.9,1],"tickSize":{"condition":{"test":"round(datum.value*10)%2===0","value":-14},"value":-7},"labels":false,"title":null}}}},
{"transform":[{"filter":"datum.s=='B'"}],"mark":{"type":"point","shape":"square","size":36,"strokeWidth":1.3,"opacity":1}},
{"transform":[{"filter":"datum.s=='C'"}],"mark":{"type":"point","shape":"diamond","size":80,"filled":true,"opacity":1}},
{"transform":[{"filter":"datum.s=='D'"}],"mark":{"type":"point","shape":"triangle-up","size":80,"filled":true,"opacity":1}}
],
"resolve":{"axis":{"x":"independent","y":"independent"}}
},
{
"data":{"name":"w20"},"width":350,"height":175,
"title":{"text":"2020 season","fontSize":42,"fontWeight":"normal","font":"Liberation Serif","color":"black","frame":"group","anchor":"middle","baseline":"alphabetic","offset":-32.5},
"encoding":{"x":{"field":"r","type":"quantitative","scale":{"domain":[10,38],"nice":false,"zero":false},"axis":null},"y":{"field":"v","type":"quantitative","scale":{"domain":[-0.1,1.1],"nice":false,"zero":false},"axis":null},"color":{"field":"s","type":"nominal","scale":{"domain":["A","B","C","D"],"range":["#000000","#4d4d4d","#7a7a7a","#a5a5a5"]},"legend":null}},
"layer":[
{"mark":{"type":"errorbar","ticks":{"size":10},"thickness":1.2},"encoding":{"yError":{"field":"e"}}},
{"transform":[{"filter":"datum.s<'C'"}],"mark":{"type":"line","strokeWidth":1.3},"encoding":{
"x":{"field":"r","type":"quantitative","axis":{"orient":"bottom","values":[10,11,12,13,14,15,16,17,18,19,20,21,22,23,24,25,26,27,28,29,30,31,32,33,34,35,36,37,38],"tickSize":{"condition":{"test":"datum.value%5===0","value":-14},"value":-7},"labels":false,"title":null}},
"y":{"field":"v","type":"quantitative","axis":{"orient":"right","values":[0,0.1,0.2,0.3,0.4,0.5,0.6,0.7,0.8,0.9,1],"tickSize":{"condition":{"test":"round(datum.value*10)%2===0","value":-14},"value":-7},"labelExpr":"round(datum.value*10)%2===0 ? datum.label : ''","format":"~g","labelFont":"Liberation Serif","labelFontSize":29,"labelPadding":17,"labelBaseline":"middle","title":null}}}},
{"transform":[{"filter":"datum.s>'B'"}],"mark":{"type":"line","strokeWidth":3.5}},
{"transform":[{"filter":"datum.s=='A'"}],"mark":{"type":"point","shape":"circle","size":32,"strokeWidth":1.3,"opacity":1},"encoding":{
"x":{"field":"r","type":"quantitative","axis":{"orient":"top","values":[10,11,12,13,14,15,16,17,18,19,20,21,22,23,24,25,26,27,28,29,30,31,32,33,34,35,36,37,38],"tickSize":{"condition":{"test":"datum.value%5===0","value":-14},"value":-7},"labels":false,"title":null}},
"y":{"field":"v","type":"quantitative","axis":{"orient":"left","values":[0,0.1,0.2,0.3,0.4,0.5,0.6,0.7,0.8,0.9,1],"tickSize":{"condition":{"test":"round(datum.value*10)%2===0","value":-14},"value":-7},"labels":false,"title":null}}}},
{"transform":[{"filter":"datum.s=='B'"}],"mark":{"type":"point","shape":"square","size":36,"strokeWidth":1.3,"opacity":1}},
{"transform":[{"filter":"datum.s=='C'"}],"mark":{"type":"point","shape":"diamond","size":80,"filled":true,"opacity":1}},
{"transform":[{"filter":"datum.s=='D'"}],"mark":{"type":"point","shape":"triangle-up","size":80,"filled":true,"opacity":1}}
],
"resolve":{"axis":{"x":"independent","y":"independent"}}
},
{
"data":{"name":"g18"},"width":350,"height":175,
"encoding":{"x":{"field":"r","type":"quantitative","scale":{"domain":[10,38],"nice":false,"zero":false},"axis":null},"y":{"field":"v","type":"quantitative","scale":{"domain":[-0.1,1.1],"nice":false,"zero":false},"axis":null},"color":{"field":"s","type":"nominal","scale":{"domain":["A","B","C","D"],"range":["#000000","#4d4d4d","#7a7a7a","#a5a5a5"]},"legend":null}},
"layer":[
{"mark":{"type":"errorbar","ticks":{"size":10},"thickness":1.2},"encoding":{"yError":{"field":"e"}}},
{"transform":[{"filter":"datum.s<'C'"}],"mark":{"type":"line","strokeWidth":1.3},"encoding":{
"x":{"field":"r","type":"quantitative","axis":{"orient":"bottom","values":[10,11,12,13,14,15,16,17,18,19,20,21,22,23,24,25,26,27,28,29,30,31,32,33,34,35,36,37,38],"tickSize":{"condition":{"test":"datum.value%5===0","value":-14},"value":-7},"labels":false,"title":null}},
"y":{"field":"v","type":"quantitative","axis":{"orient":"right","values":[0,0.1,0.2,0.3,0.4,0.5,0.6,0.7,0.8,0.9,1],"tickSize":{"condition":{"test":"round(datum.value*10)%2===0","value":-14},"value":-7},"labels":false,"title":null}}}},
{"transform":[{"filter":"datum.s>'B'"}],"mark":{"type":"line","strokeWidth":3.5}},
{"transform":[{"filter":"datum.s=='A'"}],"mark":{"type":"point","shape":"circle","size":32,"strokeWidth":1.3,"opacity":1},"encoding":{
"x":{"field":"r","type":"quantitative","axis":{"orient":"top","values":[10,11,12,13,14,15,16,17,18,19,20,21,22,23,24,25,26,27,28,29,30,31,32,33,34,35,36,37,38],"tickSize":{"condition":{"test":"datum.value%5===0","value":-14},"value":-7},"labels":false,"title":null}},
"y":{"field":"v","type":"quantitative","axis":{"orient":"left","values":[0,0.1,0.2,0.3,0.4,0.5,0.6,0.7,0.8,0.9,1],"tickSize":{"condition":{"test":"round(datum.value*10)%2===0","value":-14},"value":-7},"labels":false,"title":"f","titleFont":"Liberation Serif","titleFontStyle":"italic","titleAngle":0,"titleFontSize":56,"titleAlign":"left","titleBaseline":"alphabetic","titleX":-88,"titleY":80}}}},
{"transform":[{"filter":"datum.s=='B'"}],"mark":{"type":"point","shape":"square","size":36,"strokeWidth":1.3,"opacity":1},"encoding":{
"y":{"field":"v","type":"quantitative","axis":{"orient":"left","ticks":false,"labels":false,"title":"g4","titleFont":"Liberation Serif","titleFontStyle":"italic","titleAngle":0,"titleFontSize":49,"titleAlign":"left","titleBaseline":"alphabetic","titleX":-76,"titleY":111}}}},
{"transform":[{"filter":"datum.s=='C'"}],"mark":{"type":"point","shape":"diamond","size":80,"filled":true,"opacity":1}},
{"transform":[{"filter":"datum.s=='D'"}],"mark":{"type":"point","shape":"triangle-up","size":80,"filled":true,"opacity":1}},
{"transform":[{"filter":"datum.r<0"}],"mark":{"type":"point","filled":false,"opacity":1},"encoding":{
"shape":{"field":"s","type":"nominal","scale":{"domain":["A","B","C","D"],"range":["M-0.76,0L0.76,0M-0.76,0A0.12,0.12,0,1,1,-1,0A0.12,0.12,0,1,1,-0.76,0M1,0A0.12,0.12,0,1,1,0.76,0A0.12,0.12,0,1,1,1,0","M-0.76,0L0.76,0M-1,-0.12L-0.76,-0.12L-0.76,0.12L-1,0.12ZM0.76,-0.12L1,-0.12L1,0.12L0.76,0.12Z","M-0.76,0L0.76,0M-1,0L-0.88,-0.14L-0.76,0L-0.88,0.14ZM0.76,0L0.88,-0.14L1,0L0.88,0.14Z","M-0.76,0L0.76,0M-1,0.1L-0.88,-0.12L-0.76,0.1ZM0.76,0.1L0.88,-0.12L1,0.1Z"]},"legend":{"values":["A","B"],"title":null,"orient":"none","legendX":36,"legendY":97,"padding":0,"symbolSize":961,"symbolStrokeWidth":1.3,"symbolOpacity":1,"labelFont":"Liberation Serif","labelFontSize":18.5,"labelColor":"black","labelOffset":6,"labelLimit":400,"rowPadding":-13,"labelExpr":"datum.label=='A' ? 'criterion: score-rank (ε=0)' : datum.label=='B' ? 'criterion: match hits' : datum.label=='C' ? 'criterion: match hits; β=1, γ=1' : 'criterion: score-rank (ε=0); β=1, γ=1'"}},
"stroke":{"field":"s","type":"nominal","scale":{"domain":["A","B","C","D"],"range":["#000000","#4d4d4d","#7a7a7a","#a5a5a5"]},"legend":{"values":["A","B"],"title":null,"orient":"none","legendX":36,"legendY":97,"padding":0,"symbolSize":961,"symbolStrokeWidth":1.3,"symbolOpacity":1,"labelFont":"Liberation Serif","labelFontSize":18.5,"labelColor":"black","labelOffset":6,"labelLimit":400,"rowPadding":-13,"labelExpr":"datum.label=='A' ? 'criterion: score-rank (ε=0)' : datum.label=='B' ? 'criterion: match hits' : datum.label=='C' ? 'criterion: match hits; β=1, γ=1' : 'criterion: score-rank (ε=0); β=1, γ=1'"}}}}
],
"resolve":{"axis":{"x":"independent","y":"independent"}}
},
{
"data":{"name":"g19"},"width":350,"height":175,
"encoding":{"x":{"field":"r","type":"quantitative","scale":{"domain":[10,38],"nice":false,"zero":false},"axis":null},"y":{"field":"v","type":"quantitative","scale":{"domain":[-0.1,1.1],"nice":false,"zero":false},"axis":null},"color":{"field":"s","type":"nominal","scale":{"domain":["A","B","C","D"],"range":["#000000","#4d4d4d","#7a7a7a","#a5a5a5"]},"legend":null}},
"layer":[
{"mark":{"type":"errorbar","ticks":{"size":10},"thickness":1.2},"encoding":{"yError":{"field":"e"}}},
{"transform":[{"filter":"datum.s<'C'"}],"mark":{"type":"line","strokeWidth":1.3},"encoding":{
"x":{"field":"r","type":"quantitative","axis":{"orient":"bottom","values":[10,11,12,13,14,15,16,17,18,19,20,21,22,23,24,25,26,27,28,29,30,31,32,33,34,35,36,37,38],"tickSize":{"condition":{"test":"datum.value%5===0","value":-14},"value":-7},"labels":false,"title":null}},
"y":{"field":"v","type":"quantitative","axis":{"orient":"right","values":[0,0.1,0.2,0.3,0.4,0.5,0.6,0.7,0.8,0.9,1],"tickSize":{"condition":{"test":"round(datum.value*10)%2===0","value":-14},"value":-7},"labels":false,"title":null}}}},
{"transform":[{"filter":"datum.s>'B'"}],"mark":{"type":"line","strokeWidth":3.5}},
{"transform":[{"filter":"datum.s=='A'"}],"mark":{"type":"point","shape":"circle","size":32,"strokeWidth":1.3,"opacity":1},"encoding":{
"x":{"field":"r","type":"quantitative","axis":{"orient":"top","values":[10,11,12,13,14,15,16,17,18,19,20,21,22,23,24,25,26,27,28,29,30,31,32,33,34,35,36,37,38],"tickSize":{"condition":{"test":"datum.value%5===0","value":-14},"value":-7},"labels":false,"title":null}},
"y":{"field":"v","type":"quantitative","axis":{"orient":"left","values":[0,0.1,0.2,0.3,0.4,0.5,0.6,0.7,0.8,0.9,1],"tickSize":{"condition":{"test":"round(datum.value*10)%2===0","value":-14},"value":-7},"labels":false,"title":null}}}},
{"transform":[{"filter":"datum.s=='B'"}],"mark":{"type":"point","shape":"square","size":36,"strokeWidth":1.3,"opacity":1}},
{"transform":[{"filter":"datum.s=='C'"}],"mark":{"type":"point","shape":"diamond","size":80,"filled":true,"opacity":1}},
{"transform":[{"filter":"datum.s=='D'"}],"mark":{"type":"point","shape":"triangle-up","size":80,"filled":true,"opacity":1}},
{"transform":[{"filter":"datum.r<0"}],"mark":{"type":"point","filled":true,"opacity":1},"encoding":{
"shape":{"field":"s","type":"nominal","scale":{"domain":["A","B","C","D"],"range":["M-0.76,0L0.76,0M-0.76,0A0.12,0.12,0,1,1,-1,0A0.12,0.12,0,1,1,-0.76,0M1,0A0.12,0.12,0,1,1,0.76,0A0.12,0.12,0,1,1,1,0","M-0.76,0L0.76,0M-1,-0.12L-0.76,-0.12L-0.76,0.12L-1,0.12ZM0.76,-0.12L1,-0.12L1,0.12L0.76,0.12Z","M-0.76,0L0.76,0M-1,0L-0.88,-0.14L-0.76,0L-0.88,0.14ZM0.76,0L0.88,-0.14L1,0L0.88,0.14Z","M-0.76,0L0.76,0M-1,0.1L-0.88,-0.12L-0.76,0.1ZM0.76,0.1L0.88,-0.12L1,0.1Z"]},"legend":{"values":["C","D"],"title":null,"orient":"none","legendX":14,"legendY":101,"padding":0,"symbolSize":961,"symbolStrokeWidth":1.3,"symbolOpacity":1,"labelFont":"Liberation Serif","labelFontSize":18.5,"labelColor":"black","labelOffset":10,"labelLimit":400,"rowPadding":-13,"labelExpr":"datum.label=='A' ? 'criterion: score-rank (ε=0)' : datum.label=='B' ? 'criterion: match hits' : datum.label=='C' ? 'criterion: match hits; β=1, γ=1' : 'criterion: score-rank (ε=0); β=1, γ=1'"}},
"stroke":{"field":"s","type":"nominal","scale":{"domain":["A","B","C","D"],"range":["#000000","#4d4d4d","#7a7a7a","#a5a5a5"]},"legend":{"values":["C","D"],"title":null,"orient":"none","legendX":14,"legendY":101,"padding":0,"symbolSize":961,"symbolStrokeWidth":1.3,"symbolOpacity":1,"labelFont":"Liberation Serif","labelFontSize":18.5,"labelColor":"black","labelOffset":10,"labelLimit":400,"rowPadding":-13,"labelExpr":"datum.label=='A' ? 'criterion: score-rank (ε=0)' : datum.label=='B' ? 'criterion: match hits' : datum.label=='C' ? 'criterion: match hits; β=1, γ=1' : 'criterion: score-rank (ε=0); β=1, γ=1'"}},
"fill":{"field":"s","type":"nominal","scale":{"domain":["A","B","C","D"],"range":["#000000","#4d4d4d","#7a7a7a","#a5a5a5"]},"legend":{"values":["C","D"],"title":null,"orient":"none","legendX":14,"legendY":101,"padding":0,"symbolSize":961,"symbolStrokeWidth":1.3,"symbolOpacity":1,"labelFont":"Liberation Serif","labelFontSize":18.5,"labelColor":"black","labelOffset":10,"labelLimit":400,"rowPadding":-13,"labelExpr":"datum.label=='A' ? 'criterion: score-rank (ε=0)' : datum.label=='B' ? 'criterion: match hits' : datum.label=='C' ? 'criterion: match hits; β=1, γ=1' : 'criterion: score-rank (ε=0); β=1, γ=1'"}}}}
],
"resolve":{"axis":{"x":"independent","y":"independent"}}
},
{
"data":{"name":"g20"},"width":350,"height":175,
"encoding":{"x":{"field":"r","type":"quantitative","scale":{"domain":[10,38],"nice":false,"zero":false},"axis":null},"y":{"field":"v","type":"quantitative","scale":{"domain":[-0.1,1.1],"nice":false,"zero":false},"axis":null},"color":{"field":"s","type":"nominal","scale":{"domain":["A","B","C","D"],"range":["#000000","#4d4d4d","#7a7a7a","#a5a5a5"]},"legend":null}},
"layer":[
{"mark":{"type":"errorbar","ticks":{"size":10},"thickness":1.2},"encoding":{"yError":{"field":"e"}}},
{"transform":[{"filter":"datum.s<'C'"}],"mark":{"type":"line","strokeWidth":1.3},"encoding":{
"x":{"field":"r","type":"quantitative","axis":{"orient":"bottom","values":[10,11,12,13,14,15,16,17,18,19,20,21,22,23,24,25,26,27,28,29,30,31,32,33,34,35,36,37,38],"tickSize":{"condition":{"test":"datum.value%5===0","value":-14},"value":-7},"labels":false,"title":null}},
"y":{"field":"v","type":"quantitative","axis":{"orient":"right","values":[0,0.1,0.2,0.3,0.4,0.5,0.6,0.7,0.8,0.9,1],"tickSize":{"condition":{"test":"round(datum.value*10)%2===0","value":-14},"value":-7},"labelExpr":"round(datum.value*10)%2===0 ? datum.label : ''","format":"~g","labelFont":"Liberation Serif","labelFontSize":29,"labelPadding":17,"labelBaseline":"middle","title":null}}}},
{"transform":[{"filter":"datum.s>'B'"}],"mark":{"type":"line","strokeWidth":3.5}},
{"transform":[{"filter":"datum.s=='A'"}],"mark":{"type":"point","shape":"circle","size":32,"strokeWidth":1.3,"opacity":1},"encoding":{
"x":{"field":"r","type":"quantitative","axis":{"orient":"top","values":[10,11,12,13,14,15,16,17,18,19,20,21,22,23,24,25,26,27,28,29,30,31,32,33,34,35,36,37,38],"tickSize":{"condition":{"test":"datum.value%5===0","value":-14},"value":-7},"labels":false,"title":null}},
"y":{"field":"v","type":"quantitative","axis":{"orient":"left","values":[0,0.1,0.2,0.3,0.4,0.5,0.6,0.7,0.8,0.9,1],"tickSize":{"condition":{"test":"round(datum.value*10)%2===0","value":-14},"value":-7},"labels":false,"title":null}}}},
{"transform":[{"filter":"datum.s=='B'"}],"mark":{"type":"point","shape":"square","size":36,"strokeWidth":1.3,"opacity":1}},
{"transform":[{"filter":"datum.s=='C'"}],"mark":{"type":"point","shape":"diamond","size":80,"filled":true,"opacity":1}},
{"transform":[{"filter":"datum.s=='D'"}],"mark":{"type":"point","shape":"triangle-up","size":80,"filled":true,"opacity":1}}
],
"resolve":{"axis":{"x":"independent","y":"independent"}}
},
{
"data":{"name":"z18"},"width":350,"height":175,
"encoding":{"x":{"field":"r","type":"quantitative","scale":{"domain":[10,38],"nice":false,"zero":false},"axis":null},"y":{"field":"v","type":"quantitative","scale":{"domain":[-0.1,1.1],"nice":false,"zero":false},"axis":null},"color":{"field":"s","type":"nominal","scale":{"domain":["A","B","C","D"],"range":["#000000","#4d4d4d","#7a7a7a","#a5a5a5"]},"legend":null}},
"layer":[
{"mark":{"type":"errorbar","ticks":{"size":10},"thickness":1.2},"encoding":{"yError":{"field":"e"}}},
{"transform":[{"filter":"datum.s<'C'"}],"mark":{"type":"line","strokeWidth":1.3},"encoding":{
"x":{"field":"r","type":"quantitative","axis":{"orient":"bottom","values":[10,11,12,13,14,15,16,17,18,19,20,21,22,23,24,25,26,27,28,29,30,31,32,33,34,35,36,37,38],"tickSize":{"condition":{"test":"datum.value%5===0","value":-14},"value":-7},"labelExpr":"datum.value%5===0 && datum.value<38 ? datum.label : ''","labelFont":"Liberation Serif","labelFontSize":30,"labelPadding":15,"title":null}},
"y":{"field":"v","type":"quantitative","axis":{"orient":"right","values":[0,0.1,0.2,0.3,0.4,0.5,0.6,0.7,0.8,0.9,1],"tickSize":{"condition":{"test":"round(datum.value*10)%2===0","value":-14},"value":-7},"labels":false,"title":null}}}},
{"transform":[{"filter":"datum.s>'B'"}],"mark":{"type":"line","strokeWidth":3.5}},
{"transform":[{"filter":"datum.s=='A'"}],"mark":{"type":"point","shape":"circle","size":32,"strokeWidth":1.3,"opacity":1},"encoding":{
"x":{"field":"r","type":"quantitative","axis":{"orient":"top","values":[10,11,12,13,14,15,16,17,18,19,20,21,22,23,24,25,26,27,28,29,30,31,32,33,34,35,36,37,38],"tickSize":{"condition":{"test":"datum.value%5===0","value":-14},"value":-7},"labels":false,"title":null}},
"y":{"field":"v","type":"quantitative","axis":{"orient":"left","values":[0,0.1,0.2,0.3,0.4,0.5,0.6,0.7,0.8,0.9,1],"tickSize":{"condition":{"test":"round(datum.value*10)%2===0","value":-14},"value":-7},"labels":false,"title":"f","titleFont":"Liberation Serif","titleFontStyle":"italic","titleAngle":0,"titleFontSize":56,"titleAlign":"left","titleBaseline":"alphabetic","titleX":-86,"titleY":85}}}},
{"transform":[{"filter":"datum.s=='B'"}],"mark":{"type":"point","shape":"square","size":36,"strokeWidth":1.3,"opacity":1},"encoding":{
"y":{"field":"v","type":"quantitative","axis":{"orient":"left","ticks":false,"labels":false,"title":"z4","titleFont":"Liberation Serif","titleFontStyle":"italic","titleAngle":0,"titleFontSize":49,"titleAlign":"left","titleBaseline":"alphabetic","titleX":-69,"titleY":140}}}},
{"transform":[{"filter":"datum.s=='C'"}],"mark":{"type":"point","shape":"diamond","size":80,"filled":true,"opacity":1}},
{"transform":[{"filter":"datum.s=='D'"}],"mark":{"type":"point","shape":"triangle-up","size":80,"filled":true,"opacity":1}}
],
"resolve":{"axis":{"x":"independent","y":"independent"}}
},
{
"data":{"name":"z19"},"width":350,"height":175,
"encoding":{"x":{"field":"r","type":"quantitative","scale":{"domain":[10,38],"nice":false,"zero":false},"axis":null},"y":{"field":"v","type":"quantitative","scale":{"domain":[-0.1,1.1],"nice":false,"zero":false},"axis":null},"color":{"field":"s","type":"nominal","scale":{"domain":["A","B","C","D"],"range":["#000000","#4d4d4d","#7a7a7a","#a5a5a5"]},"legend":null}},
"layer":[
{"mark":{"type":"errorbar","ticks":{"size":10},"thickness":1.2},"encoding":{"yError":{"field":"e"}}},
{"transform":[{"filter":"datum.s<'C'"}],"mark":{"type":"line","strokeWidth":1.3},"encoding":{
"x":{"field":"r","type":"quantitative","axis":{"orient":"bottom","values":[10,11,12,13,14,15,16,17,18,19,20,21,22,23,24,25,26,27,28,29,30,31,32,33,34,35,36,37,38],"tickSize":{"condition":{"test":"datum.value%5===0","value":-14},"value":-7},"labelExpr":"datum.value%5===0 && datum.value<38 ? datum.label : ''","labelFont":"Liberation Serif","labelFontSize":30,"labelPadding":15,"title":"round","titleFont":"Liberation Serif","titleFontSize":62,"titleFontStyle":"italic","titleBaseline":"alphabetic","titleY":85}},
"y":{"field":"v","type":"quantitative","axis":{"orient":"right","values":[0,0.1,0.2,0.3,0.4,0.5,0.6,0.7,0.8,0.9,1],"tickSize":{"condition":{"test":"round(datum.value*10)%2===0","value":-14},"value":-7},"labels":false,"title":null}}}},
{"transform":[{"filter":"datum.s>'B'"}],"mark":{"type":"line","strokeWidth":3.5}},
{"transform":[{"filter":"datum.s=='A'"}],"mark":{"type":"point","shape":"circle","size":32,"strokeWidth":1.3,"opacity":1},"encoding":{
"x":{"field":"r","type":"quantitative","axis":{"orient":"top","values":[10,11,12,13,14,15,16,17,18,19,20,21,22,23,24,25,26,27,28,29,30,31,32,33,34,35,36,37,38],"tickSize":{"condition":{"test":"datum.value%5===0","value":-14},"value":-7},"labels":false,"title":null}},
"y":{"field":"v","type":"quantitative","axis":{"orient":"left","values":[0,0.1,0.2,0.3,0.4,0.5,0.6,0.7,0.8,0.9,1],"tickSize":{"condition":{"test":"round(datum.value*10)%2===0","value":-14},"value":-7},"labels":false,"title":null}}}},
{"transform":[{"filter":"datum.s=='B'"}],"mark":{"type":"point","shape":"square","size":36,"strokeWidth":1.3,"opacity":1}},
{"transform":[{"filter":"datum.s=='C'"}],"mark":{"type":"point","shape":"diamond","size":80,"filled":true,"opacity":1}},
{"transform":[{"filter":"datum.s=='D'"}],"mark":{"type":"point","shape":"triangle-up","size":80,"filled":true,"opacity":1}}
],
"resolve":{"axis":{"x":"independent","y":"independent"}}
},
{
"data":{"name":"z20"},"width":350,"height":175,
"encoding":{"x":{"field":"r","type":"quantitative","scale":{"domain":[10,38],"nice":false,"zero":false},"axis":null},"y":{"field":"v","type":"quantitative","scale":{"domain":[-0.1,1.1],"nice":false,"zero":false},"axis":null},"color":{"field":"s","type":"nominal","scale":{"domain":["A","B","C","D"],"range":["#000000","#4d4d4d","#7a7a7a","#a5a5a5"]},"legend":null}},
"layer":[
{"mark":{"type":"errorbar","ticks":{"size":10},"thickness":1.2},"encoding":{"yError":{"field":"e"}}},
{"transform":[{"filter":"datum.s<'C'"}],"mark":{"type":"line","strokeWidth":1.3},"encoding":{
"x":{"field":"r","type":"quantitative","axis":{"orient":"bottom","values":[10,11,12,13,14,15,16,17,18,19,20,21,22,23,24,25,26,27,28,29,30,31,32,33,34,35,36,37,38],"tickSize":{"condition":{"test":"datum.value%5===0","value":-14},"value":-7},"labelExpr":"datum.value%5===0 && datum.value<38 ? datum.label : ''","labelFont":"Liberation Serif","labelFontSize":30,"labelPadding":15,"title":null}},
"y":{"field":"v","type":"quantitative","axis":{"orient":"right","values":[0,0.1,0.2,0.3,0.4,0.5,0.6,0.7,0.8,0.9,1],"tickSize":{"condition":{"test":"round(datum.value*10)%2===0","value":-14},"value":-7},"labelExpr":"round(datum.value*10)%2===0 ? datum.label : ''","format":"~g","labelFont":"Liberation Serif","labelFontSize":29,"labelPadding":17,"labelBaseline":"middle","title":null}}}},
{"transform":[{"filter":"datum.s>'B'"}],"mark":{"type":"line","strokeWidth":3.5}},
{"transform":[{"filter":"datum.s=='A'"}],"mark":{"type":"point","shape":"circle","size":32,"strokeWidth":1.3,"opacity":1},"encoding":{
"x":{"field":"r","type":"quantitative","axis":{"orient":"top","values":[10,11,12,13,14,15,16,17,18,19,20,21,22,23,24,25,26,27,28,29,30,31,32,33,34,35,36,37,38],"tickSize":{"condition":{"test":"datum.value%5===0","value":-14},"value":-7},"labels":false,"title":null}},
"y":{"field":"v","type":"quantitative","axis":{"orient":"left","values":[0,0.1,0.2,0.3,0.4,0.5,0.6,0.7,0.8,0.9,1],"tickSize":{"condition":{"test":"round(datum.value*10)%2===0","value":-14},"value":-7},"labels":false,"title":null}}}},
{"transform":[{"filter":"datum.s=='B'"}],"mark":{"type":"point","shape":"square","size":36,"strokeWidth":1.3,"opacity":1}},
{"transform":[{"filter":"datum.s=='C'"}],"mark":{"type":"point","shape":"diamond","size":80,"filled":true,"opacity":1}},
{"transform":[{"filter":"datum.s=='D'"}],"mark":{"type":"point","shape":"triangle-up","size":80,"filled":true,"opacity":1}}
],
"resolve":{"axis":{"x":"independent","y":"independent"}}
}
],
"config":{
"view":{"stroke":"black","strokeWidth":2.5},
"font":"Liberation Serif",
"point":{"opacity":1},
"axis":{"domain":false,"grid":false,"tickColor":"black","tickWidth":1.5,"labelColor":"black","labelFont":"Liberation Serif","labelFontSize":30,"titleColor":"black","titleFont":"Liberation Serif","titleFontWeight":"normal","titleFontStyle":"italic","labelFlush":false,"labelOverlap":false,"labelBound":false,"titlePadding":0}
}
}
